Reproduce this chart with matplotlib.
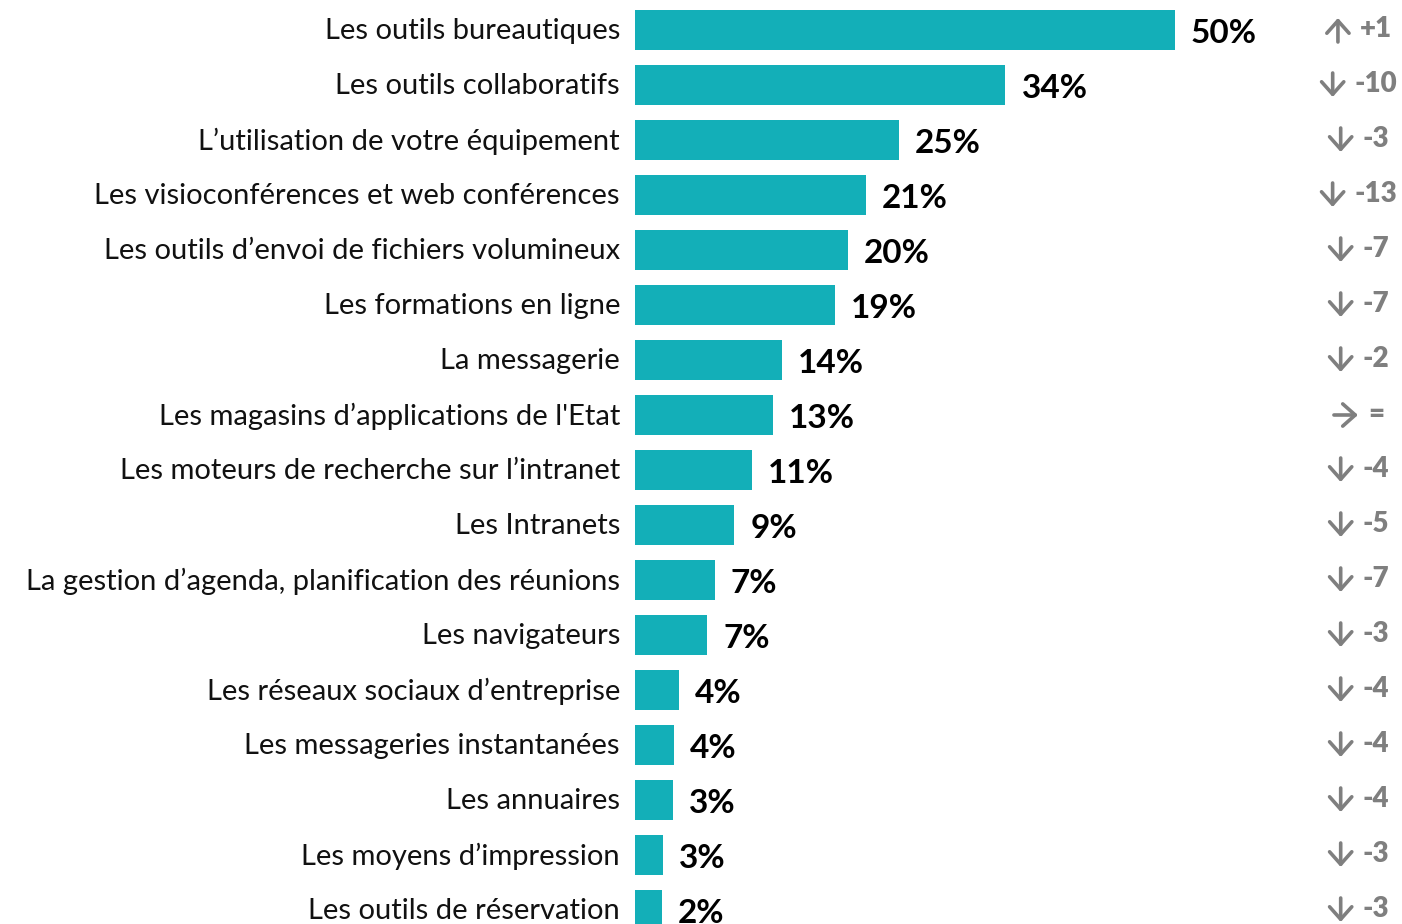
import matplotlib.pyplot as plt

# data
labels = [
    "Les outils bureautiques",
    "Les outils collaboratifs",
    "L\u2019utilisation de votre équipement",
    "Les visioconférences et web conférences",
    "Les outils d\u2019envoi de fichiers volumineux",
    "Les formations en ligne",
    "La messagerie",
    "Les magasins d\u2019applications de l'Etat",
    "Les moteurs de recherche sur l\u2019intranet",
    "Les Intranets",
    "La gestion d\u2019agenda, planification des réunions",
    "Les navigateurs",
    "Les réseaux sociaux d\u2019entreprise",
    "Les messageries instantanées",
    "Les annuaires",
    "Les moyens d\u2019impression",
    "Les outils de réservation",
]
values = [50, 34.3, 24.4, 21.4, 19.7, 18.5, 13.6, 12.8, 10.8, 9.2, 7.4, 6.7, 4.1, 3.6, 3.5, 2.6, 2.5]
value_labels = ["50%", "34%", "25%", "21%", "20%", "19%", "14%", "13%", "11%", "9%",
                "7%", "7%", "4%", "4%", "3%", "3%", "2%"]
trend = ["up", "down", "down", "down", "down", "down", "down", "flat", "down",
         "down", "down", "down", "down", "down", "down", "down", "down"]
changes = ["+1", "-10", "-3", "-13", "-7", "-7", "-2", "=", "-4", "-5", "-7", "-3",
           "-4", "-4", "-4", "-3", "-3"]

W, H = 1402, 924
bar_color = "#13AFB8"
gray = "#7F7F7F"
fam = ["Lato", "DejaVu Sans"]

fig = plt.figure(figsize=(W / 100, H / 100), dpi=100)
x0 = 635
px_per_unit = 10.8
row_px = 55
ax = fig.add_axes([x0 / W, 0, (W - x0) / W, 1])
ax.set_xlim(0, (W - x0) / px_per_unit)
ax.set_ylim((H - 30) / row_px, -30 / row_px)

ys = list(range(len(labels)))
ax.barh(ys, values, height=40 / row_px, color=bar_color)

change_texts = []
for y, lab, v, vl, c in zip(ys, labels, values, value_labels, changes):
    ax.text(-15 / px_per_unit, y + 0.02, lab, ha="right", va="center", fontsize=21,
            family=fam, color="#111111", clip_on=False)
    ax.text(v + 16 / px_per_unit, y + 0.06, vl, ha="left", va="center", fontsize=24,
            family=fam, fontweight="bold", color="black")
    tc = ax.text(0, y - 0.01, c, ha="left", va="center", fontsize=20,
                 family=fam, fontweight="heavy", color=gray)
    change_texts.append(tc)

ax.axis("off")

# arrow + change centred together on the right column
fig.canvas.draw()
r = fig.canvas.get_renderer()
arrow_w, gap, col_c = 24, 10, 1359
half_h = 12 / row_px
half_w = 12 / px_per_unit
for y, t, tc in zip(ys, trend, change_texts):
    wc = tc.get_window_extent(r).width
    left = col_c - (arrow_w + gap + wc) / 2
    cx = (left + arrow_w / 2 - x0) / px_per_unit
    tc.set_x((left + arrow_w + gap - x0) / px_per_unit)
    if t == "up":
        start, end = (cx, y + half_h), (cx, y - half_h)
    elif t == "down":
        start, end = (cx, y - half_h), (cx, y + half_h)
    else:
        start, end = (cx - half_w, y), (cx + half_w, y)
    ax.annotate("", xy=end, xytext=start,
                arrowprops=dict(arrowstyle="->,head_length=0.45,head_width=0.4",
                                color=gray, lw=2.6, shrinkA=0, shrinkB=0,
                                mutation_scale=20))

fig.savefig("out.png", dpi=100)
